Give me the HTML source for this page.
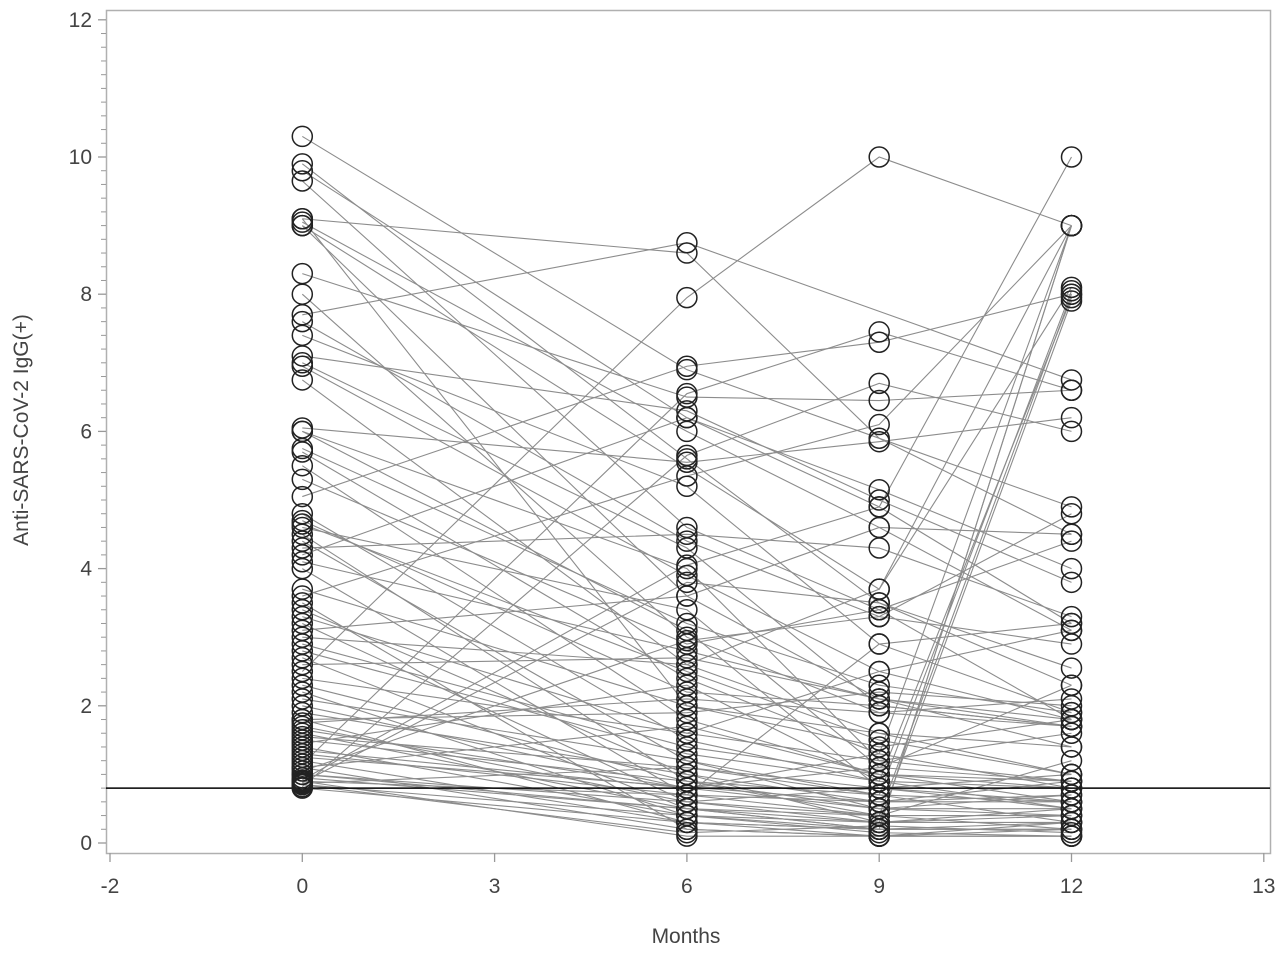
<!DOCTYPE html>
<html><head><meta charset="utf-8"><style>
body{margin:0;background:#fff}
svg text{font-family:"Liberation Sans",sans-serif;fill:#444}
</style></head><body>
<svg id="chart" width="1280" height="953" xmlns="http://www.w3.org/2000/svg">
<rect x="106.5" y="10.5" width="1164" height="843" fill="#fff" stroke="#b0b0b0" stroke-width="1.5"/>
<g id="ticks"></g>
<g id="lines"></g>
<line id="refline" x1="106" x2="1270" stroke="#000" stroke-width="1.5"/>
<g id="pts"></g>
<text x="686" y="943" font-size="21" text-anchor="middle">Months</text>
<text transform="translate(28,430) rotate(-90)" font-size="21" text-anchor="middle">Anti-SARS-CoV-2 IgG(+)</text>
</svg>
<script>
const xTickLabels=["-2","0","3","6","9","12","13"];
const yTicks=[0,2,4,6,8,10,12];
const timepoints=["0","6","9","12"];
const refValue=0.8;
const m0=[10.3,9.9,9.8,9.65,9.1,9.05,9.0,9.0,8.3,8.0,7.7,7.6,7.4,7.1,6.95,6.75,6.05,6.0,5.75,5.7,5.5,5.3,5.05,4.8,4.7,4.6,4.5,4.4,4.3,4.1,4.0,3.7,3.6,3.4,3.2,3.0,2.9,2.7,2.5,2.4,2.2,2.0,1.9,1.8,1.75,1.7,1.6,1.5,1.4,1.3,1.2,1.1,1.0,0.95,0.9,0.85,0.8,0.82,0.88,0.92,1.05,1.15,1.35,1.45,1.55,1.65,2.1,2.3,2.6,2.8,3.1,3.3,3.5,4.2,4.65,1.25,0.87,0.9,1.8,6.0,9.1,7.0,1.0,1.1,0.85];
const m6=[6.9,5.6,6.2,4.6,8.6,6.0,3.6,null,6.5,3.0,8.75,4.4,5.2,6.3,3.9,2.6,5.55,4.0,3.2,2.4,1.8,2.9,6.95,1.5,2.2,3.4,0.9,1.2,4.5,2.8,0.7,2.0,5.35,1.0,0.6,2.6,1.4,0.5,7.95,1.6,0.4,0.8,1.0,0.3,2.1,0.6,0.5,0.9,0.4,0.7,0.3,0.2,0.6,0.5,0.1,0.4,0.3,5.65,3.8,4.05,2.95,6.55,0.8,2.3,1.1,0.8,1.2,0.9,2.7,1.3,3.6,1.6,0.2,6.2,2.5,null,1.1,0.7,1.9,3.1,2.0,4.3,0.5,1.7,0.15];
const m9=[null,3.5,4.9,3.4,5.9,4.6,2.1,3.7,6.45,1.9,null,3.3,2.9,5.0,2.5,1.6,5.85,1.2,2.3,1.3,1.0,3.4,7.3,0.9,2.0,1.1,0.5,0.7,4.3,2.1,0.4,1.6,6.1,0.6,0.3,3.7,1.0,0.2,10.0,2.5,0.15,0.5,0.3,0.2,1.9,0.4,0.3,0.7,0.2,0.6,0.1,0.1,0.8,0.4,0.1,0.3,0.2,6.7,3.5,4.9,3.3,7.45,1.3,0.9,0.7,1.1,0.5,0.4,2.1,0.9,4.6,1.2,0.1,5.15,1.5,0.6,0.8,2.9,2.2,0.8,1.4,2.0,0.2,1.0,0.25];
const m12=[4.9,2.3,3.2,1.8,4.5,3.1,1.4,9.0,6.6,1.7,6.75,2.9,1.9,3.8,1.8,1.0,6.2,0.9,1.9,0.8,0.6,4.4,8.0,0.5,1.7,0.9,0.4,0.3,3.3,1.7,0.2,1.4,9.0,0.6,0.3,8.1,0.8,0.2,9.0,3.1,0.1,0.5,7.9,0.3,2.1,8.0,0.4,0.6,0.2,0.9,0.1,0.3,1.0,0.4,0.2,0.5,9.0,6.0,2.55,10.0,4.8,6.6,9.0,7.95,8.05,2.3,0.7,1.2,1.8,0.8,4.5,1.6,0.1,4.0,1.0,0.7,0.6,3.2,2.0,0.5,1.8,1.7,9.0,0.9,0.15];
const series=[m0,m6,m9,m12];
const NS="http://www.w3.org/2000/svg";
const X0=110,XSTEP=192.3;
function xTick(i){return X0+i*XSTEP;}
function xTime(t){return xTick(xTickLabels.indexOf(timepoints[t]));}
function y(v){return 843-v*68.6;}
function mk(tag,attrs,parent){const e=document.createElementNS(NS,tag);for(const k in attrs)e.setAttribute(k,attrs[k]);parent.appendChild(e);return e;}
const tg=document.getElementById('ticks');
xTickLabels.forEach((lab,i)=>{
  const l=mk('line',{x1:xTick(i),x2:xTick(i),y1:853,y2:862,stroke:'#999','stroke-width':1.3},tg);
  
  
  const t=mk('text',{x:xTick(i),y:893,'font-size':21,'text-anchor':'middle'},tg);
  t.textContent=lab;
  
  
});
for(let k=0;k<=60;k++){
  const v=k*0.2;const major=k%10===0;
  const l=mk('line',{x1:major?98:101,x2:106,y1:y(v),y2:y(v),stroke:'#999','stroke-width':major?1.3:1},tg);
  
  
}
yTicks.forEach(v=>{
  const t=mk('text',{x:92,y:y(v)+7,'font-size':21,'text-anchor':'end'},tg);
  t.textContent=v;
  
  
});
const rl=document.getElementById('refline');rl.setAttribute('y1',y(refValue));rl.setAttribute('y2',y(refValue));
const lg=document.getElementById('lines'),pg=document.getElementById('pts');
for(let s=0;s<m0.length;s++){
  const pts=[];
  for(let t=0;t<4;t++){const v=series[t][s];if(v!==null&&v!==undefined)pts.push(xTime(t)+','+y(v));}
  const pl=mk('polyline',{points:pts.join(' '),fill:'none',stroke:'#8c8c8c','stroke-width':1.1},lg);
  
  
  for(let t=0;t<4;t++){const v=series[t][s];if(v===null||v===undefined)continue;
    const c=mk('circle',{cx:xTime(t),cy:y(v),r:10,fill:'none',stroke:'#222','stroke-width':1.5},pg);
    
    
  }
}
</script>
</body></html>
